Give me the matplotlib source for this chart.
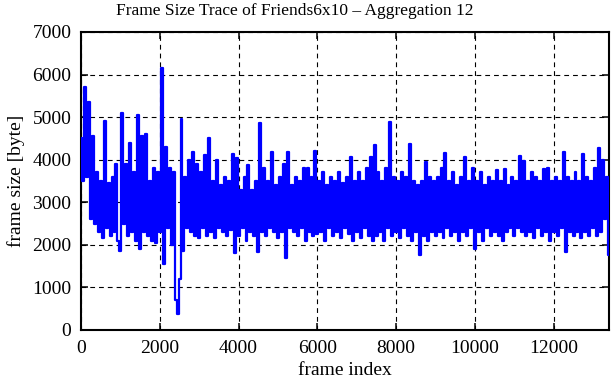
import matplotlib
matplotlib.use("Agg")
import matplotlib.pyplot as plt
import numpy as np

# frame size samples, one every 50 frames
frame_step = 50
frame_sizes = [
    # 0 - 950
    4500, 3500, 5700, 3600, 5350, 2600, 4550, 2500, 3700, 2300,
    3500, 2150, 4900, 2400, 3450, 2200, 3600, 2300, 3900, 2100,
    # 1000 - 1950
    1850, 5100, 2500, 3900, 2200, 4400, 2300, 3700, 2100, 5050,
    1900, 4550, 2300, 4600, 2200, 3500, 2100, 3800, 2050, 3700,
    # 2000 - 2950
    2300, 6150, 1550, 4300, 2400, 3800, 2000, 3700, 700, 380,
    1200, 4950, 1850, 3600, 2400, 4000, 2300, 4180, 2200, 3900,
    # 3000 - 3950
    2150, 3700, 2400, 4100, 2200, 4500, 2300, 3500, 2150, 4000,
    2400, 3400, 2300, 3600, 2200, 3500, 2350, 4130, 1800, 4050,
    # 4000 - 4950
    2200, 3300, 2400, 3600, 2100, 3880, 2300, 3300, 2200, 3500,
    1840, 4870, 2300, 3800, 2200, 3500, 2400, 4170, 2300, 3400,
    # 5000 - 5950
    2150, 3600, 2300, 3900, 1700, 4170, 2400, 3400, 2300, 3600,
    2200, 3500, 2400, 3800, 2100, 3800, 2300, 3600, 2200, 4200,
    # 6000 - 6950
    2250, 3500, 2300, 3700, 2100, 3400, 2400, 3600, 2200, 3500,
    2300, 3700, 2150, 3450, 2400, 3600, 2250, 4070, 2100, 3500,
    # 7000 - 7950
    2300, 3700, 2150, 3500, 2400, 3800, 2200, 4060, 2100, 4350,
    2200, 3700, 2300, 3500, 2100, 3800, 2400, 4890, 2200, 3600,
    # 8000 - 8950
    2300, 3500, 2150, 3700, 2400, 3600, 2200, 4380, 2100, 3500,
    2300, 3400, 1760, 3500, 2200, 3950, 2100, 3600, 2300, 3500,
    # 9000 - 9950
    2200, 3600, 2300, 3800, 2150, 4150, 2400, 3500, 2200, 3700,
    2300, 3400, 2100, 3600, 2300, 4070, 2200, 3500, 2400, 3800,
    # 10000 - 10950
    1900, 3500, 2300, 3700, 2100, 3400, 2400, 3600, 2200, 3500,
    2300, 3760, 2200, 3500, 2100, 3770, 2300, 3400, 2400, 3600,
    # 11000 - 11950
    2200, 3500, 2400, 4090, 2300, 3970, 2200, 3500, 2300, 3700,
    2150, 3600, 2400, 3500, 2200, 3770, 2300, 3800, 2100, 3500,
    # 12000 - 12950
    2300, 3600, 2200, 3500, 2400, 4170, 1840, 3600, 2300, 3500,
    2200, 3700, 2300, 3500, 2150, 4130, 2300, 3600, 2200, 3500,
    # 13000 - 13400
    2400, 3800, 2200, 4270, 2300, 4000, 2600, 3600, 1750,
]
frame_index = np.arange(len(frame_sizes)) * frame_step

x_ticks = [0, 2000, 4000, 6000, 8000, 10000, 12000]
y_ticks = [0, 1000, 2000, 3000, 4000, 5000, 6000, 7000]

plt.rcParams['font.family'] = ['Liberation Serif', 'DejaVu Serif']

fig = plt.figure(figsize=(6.11, 3.80), dpi=100)
ax = fig.add_axes([0.1326, 0.1316, 0.8641, 0.7842])

# step drawing gives the flat-topped, dense look of the original trace
ax.plot(frame_index, frame_sizes, color='#0000ff', linewidth=1.6,
        drawstyle='steps-mid', zorder=3)

ax.set_xlim(0, frame_index[-1])
ax.set_ylim(0, 7000)
ax.set_xticks(x_ticks)
ax.set_yticks(y_ticks)
ax.grid(True, color='black', linestyle=(0, (4.3, 3.6)), linewidth=0.8, zorder=1)
ax.tick_params(direction='in', length=5, width=1.1, top=True, right=True,
               labelsize=14, pad=7)
for s in ax.spines.values():
    s.set_linewidth(1.5)

fig.text(295 / 611, 1 - 11 / 380, 'Frame Size Trace of Friends6x10 \u2013 Aggregation 12',
         fontsize=12.5, ha='center', va='center')
ax.set_xlabel('frame index', fontsize=14, labelpad=4)
ax.set_ylabel('frame size [byte]', fontsize=14, labelpad=5)

fig.savefig('out.png', dpi=100)
